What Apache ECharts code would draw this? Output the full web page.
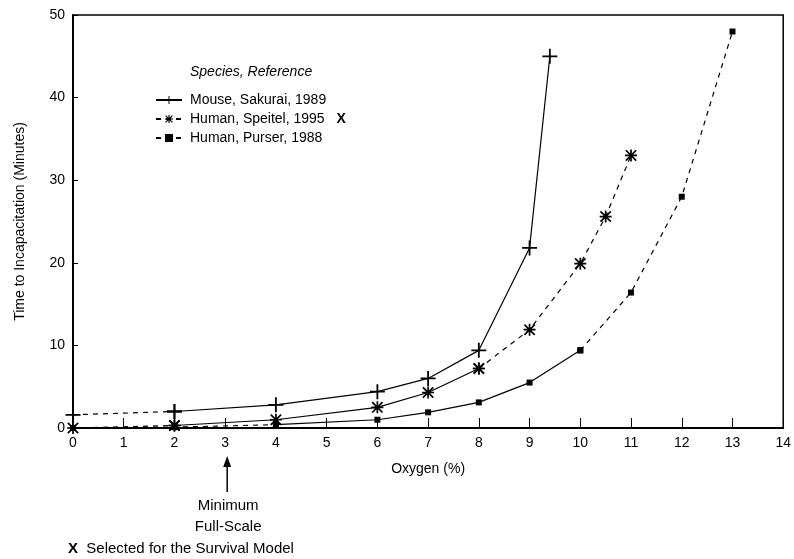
<!DOCTYPE html>
<html>
<head>
<meta charset="utf-8">
<script src="https://cdn.jsdelivr.net/npm/echarts@6/dist/echarts.min.js"></script>
<style>
html,body{margin:0;padding:0;background:#fff;}
#chart{width:794px;height:559px;}
</style>
</head>
<body>
<div id="chart"></div>
<script>
// oxygen (%) and time to incapacitation (min)
var mouseX   = [0, 2, 4, 6, 7, 8, 9, 9.4];
var mouseY   = [1.6, 2.0, 2.8, 4.4, 6.0, 9.4, 21.8, 45];
var speitelX = [0, 2, 4, 6, 7, 8, 9, 10, 10.5, 11];
var speitelY = [0, 0.3, 1.0, 2.5, 4.3, 7.2, 11.9, 19.9, 25.6, 33];
var purserX  = [0, 2, 4, 6, 7, 8, 9, 10, 11, 12, 13];
var purserY  = [0, 0.1, 0.4, 1.0, 1.9, 3.1, 5.5, 9.4, 16.4, 28, 48];
var names = ['Mouse, Sakurai, 1989', 'Human, Speitel, 1995', 'Human, Purser, 1988'];

var font = 'Liberation Sans, Arial, sans-serif';
var plusPath = 'path://M4.4,0h1.2v4.4h4.4v1.2h-4.4v4.4h-1.2v-4.4h-4.4v-1.2h4.4z';
var starPath = 'path://M0,4.3h10v1.4h-10z M4.3,0h1.4v10h-1.4z M1.2,0.2L9.8,8.8L8.8,9.8L0.2,1.2z M8.8,0.2L9.8,1.2L1.2,9.8L0.2,8.8z';

function pts(xs, ys, a, b) {
    var out = [];
    for (var i = a; i <= b; i++) out.push([xs[i], ys[i]]);
    return out;
}
function seg(name, xs, ys, a, b, dashed, symbol, size) {
    return {
        name: name,
        type: 'line',
        data: pts(xs, ys, a, b),
        symbol: symbol,
        symbolSize: size,
        showSymbol: true,
        silent: true,
        z: 3,
        itemStyle: { color: '#000' },
        lineStyle: { color: '#000', width: 1.2, type: dashed ? [5, 5] : 'solid' }
    };
}

var series = [
    seg('m0', mouseX, mouseY, 0, 1, true, plusPath, 15),
    seg(names[0], mouseX, mouseY, 1, mouseX.length - 1, false, plusPath, 15),
    seg('s0', speitelX, speitelY, 0, 1, true, starPath, 12),
    seg('s1', speitelX, speitelY, 1, 5, false, starPath, 12),
    seg(names[1], speitelX, speitelY, 5, speitelX.length - 1, true, starPath, 12),
    seg('p0', purserX, purserY, 0, 2, true, 'rect', 6),
    seg('p1', purserX, purserY, 2, 7, false, 'rect', 6),
    seg(names[2], purserX, purserY, 7, purserX.length - 1, true, 'rect', 6)
];

var chart = echarts.init(document.getElementById('chart'));
var option = {
    animation: false,
    backgroundColor: '#fff',
    textStyle: { fontFamily: font, color: '#000' },
    grid: { left: 73, right: 10, top: 15, bottom: 131, show: true, borderColor: '#000', borderWidth: 1.5 },
    legend: {
        data: names,
        orient: 'vertical',
        left: 150,
        top: 88,
        itemWidth: 26,
        itemHeight: 10,
        itemGap: 5,
        textStyle: { fontFamily: font, fontSize: 14, color: '#000', padding: [0, 0, 0, 3],
            rich: { x: { fontWeight: 'bold', fontSize: 14, padding: [0, 0, 0, 8] } } },
        formatter: function (n) { return n === names[1] ? n + ' {x|X}' : n; }
    },
    xAxis: {
        type: 'value', min: 0, max: 14, interval: 1,
        name: 'Oxygen (%)', nameLocation: 'middle', nameGap: 34,
        nameTextStyle: { fontSize: 14, color: '#000' },
        axisLine: { lineStyle: { color: '#000', width: 2 } },
        axisTick: { inside: true, length: 10, lineStyle: { color: '#000' } },
        axisLabel: { fontSize: 14, color: '#000', margin: 8 },
        splitLine: { show: false }
    },
    yAxis: {
        type: 'value', min: 0, max: 50, interval: 10,
        name: 'Time to Incapacitation (Minutes)', nameLocation: 'middle', nameGap: 46,
        nameTextStyle: { fontSize: 14, color: '#000' },
        axisLine: { lineStyle: { color: '#000', width: 2 } },
        axisTick: { inside: true, length: 5, lineStyle: { color: '#000' } },
        axisLabel: { fontSize: 14, color: '#000', margin: 8 },
        splitLine: { show: false }
    },
    series: series
};
chart.setOption(option);

// annotations: legend heading, arrow at minimum full-scale, footnote
var ax = chart.convertToPixel({ gridIndex: 0 }, [3, 0]);
chart.setOption({
    graphic: [
        { type: 'text', left: 190, top: 65,
          style: { text: 'Species, Reference', font: 'italic 14px ' + font, fill: '#000' } },
        { type: 'line', shape: { x1: ax[0] + 2, y1: 492, x2: ax[0] + 2, y2: 464 },
          style: { stroke: '#000', lineWidth: 1.5 } },
        { type: 'polygon', shape: { points: [[ax[0] - 2, 467], [ax[0] + 6, 467], [ax[0] + 2, 456]] },
          style: { fill: '#000' } },
        { type: 'text', x: ax[0] + 3, y: 498,
          style: { text: 'Minimum', font: '15px ' + font, fill: '#000', align: 'center' } },
        { type: 'text', x: ax[0] + 3, y: 519,
          style: { text: 'Full-Scale', font: '15px ' + font, fill: '#000', align: 'center' } },
        { type: 'text', x: 68, y: 541,
          style: { text: '{b|X}  Selected for the Survival Model', font: '15px ' + font, fill: '#000',
                   rich: { b: { fontWeight: 'bold', fontSize: 15 } } } }
    ]
});
</script>
</body>
</html>
